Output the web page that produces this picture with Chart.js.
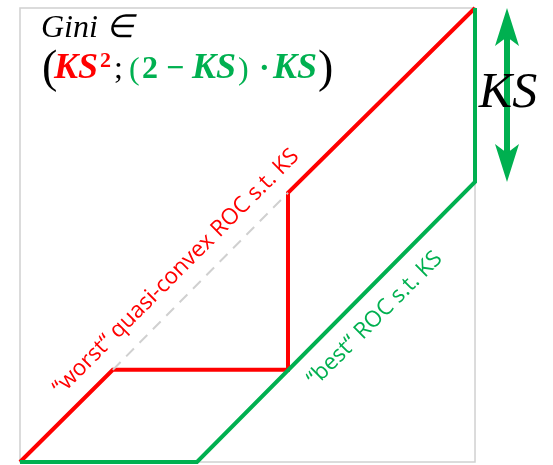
<!DOCTYPE html>
<html>
<head>
<meta charset="utf-8">
<script src="https://cdn.jsdelivr.net/npm/chart.js@4.4.1/dist/chart.umd.min.js"></script>
<style>
  body { margin: 0; background: #fff; }
  #wrap { width: 553px; height: 465px; }
</style>
</head>
<body>
<div id="wrap"><canvas id="roc-chart"></canvas></div>
<script>
// ROC curves (false positive rate on x, true positive rate on y)
const worstX = [0, 0.204, 0.589, 0.589, 1];
const worstY = [0, 0.203, 0.203, 0.593, 1];
const bestX = [0, 0.389, 1, 1];
const bestY = [0, 0, 0.617, 1];
const diagX = [0.204, 0.589];
const diagY = [0.203, 0.593];

const worstLabel = "\u201Cworst\u201C quasi-convex ROC s.t. KS";
const bestLabel = "\u201Cbest\u201C ROC s.t. KS";
const ksLabel = "KS";

const RED = "#ff0000";
const GREEN = "#00b050";
const SERIF = "'Liberation Serif'";

const toPoints = (xs, ys) => xs.map((x, i) => ({ x: x, y: ys[i] }));

// pieces of "(KS²; (2 − KS) · KS)" : text, left x, font, colour, baseline
const formula = [
  ["(", 42, "46px " + SERIF, "#000", 82],
  ["KS", 54, "italic bold 36px " + SERIF, RED, 78],
  ["2", 100, "bold 22px " + SERIF, RED, 67],
  [";", 114, "32px " + SERIF, "#000", 78],
  ["(", 129, "32px " + SERIF, GREEN, 79],
  ["2", 142, "bold 32px " + SERIF, GREEN, 78],
  ["\u2212", 166, "bold 32px " + SERIF, GREEN, 78],
  ["KS", 192, "italic bold 36px " + SERIF, GREEN, 78],
  [")", 238, "32px " + SERIF, GREEN, 79],
  ["\u00B7", 259, "bold 32px " + SERIF, GREEN, 78],
  ["KS", 273, "italic bold 36px " + SERIF, GREEN, 78],
  [")", 318, "46px " + SERIF, "#000", 82]
];

// box, rotated labels, Gini formula and KS arrow
const annotations = {
  id: "annotations",
  beforeDatasetsDraw(chart) {
    const { ctx, chartArea: a } = chart;
    ctx.save();
    ctx.strokeStyle = "#d0d0d0";
    ctx.lineWidth = 1.5;
    ctx.strokeRect(a.left, a.top, a.right - a.left, a.bottom - a.top);
    ctx.restore();
  },
  afterDatasetsDraw(chart) {
    const { ctx, chartArea: a } = chart;
    const xs = chart.scales.x;
    const ys = chart.scales.y;

    const rotated = (text, cx, cy, color) => {
      ctx.save();
      ctx.translate(xs.getPixelForValue(cx), ys.getPixelForValue(cy));
      ctx.rotate(-Math.PI / 4);
      ctx.font = "22.5px 'Open Sans'";
      ctx.fillStyle = color;
      ctx.textAlign = "center";
      ctx.textBaseline = "middle";
      ctx.fillText(text, 0, 0);
      ctx.restore();
    };
    rotated(worstLabel, 0.343, 0.418, RED);
    rotated(bestLabel, 0.78, 0.315, GREEN);

    // Gini formula
    ctx.save();
    ctx.textBaseline = "alphabetic";
    ctx.fillStyle = "#000";
    ctx.font = "italic 32px " + SERIF;
    ctx.fillText("Gini \u2208", 41, 37);
    formula.forEach(([text, x, font, color, y]) => {
      ctx.font = font;
      ctx.fillStyle = color;
      ctx.fillText(text, x, y);
    });
    ctx.restore();

    // KS double arrow along the vertical part of the best curve
    const ax = a.right + 32;
    const yTop = ys.getPixelForValue(bestY[3]);
    const yBot = ys.getPixelForValue(bestY[2]);
    ctx.save();
    ctx.fillStyle = GREEN;
    ctx.strokeStyle = GREEN;
    ctx.lineWidth = 6;
    ctx.beginPath();
    ctx.moveTo(ax, yTop + 20);
    ctx.lineTo(ax, yBot - 20);
    ctx.stroke();
    const head = (tipY, dir) => {
      ctx.beginPath();
      ctx.moveTo(ax, tipY);
      ctx.lineTo(ax - 12, tipY + dir * 38);
      ctx.lineTo(ax, tipY + dir * 29);
      ctx.lineTo(ax + 12, tipY + dir * 38);
      ctx.closePath();
      ctx.fill();
    };
    head(yTop, 1);
    head(yBot, -1);

    ctx.fillStyle = "#000";
    ctx.font = "italic 50px " + SERIF;
    ctx.textAlign = "center";
    ctx.fillText(ksLabel, ax + 1, 107);
    ctx.restore();
  }
};

new Chart("roc-chart", {
  type: "scatter",
  data: {
    datasets: [
      {
        label: "diagonal",
        data: toPoints(diagX, diagY),
        showLine: true,
        borderColor: "#d0d0d0",
        borderWidth: 2,
        borderDash: [11, 8],
        pointRadius: 0,
        clip: false
      },
      {
        label: "best ROC",
        data: toPoints(bestX, bestY),
        showLine: true,
        borderColor: GREEN,
        borderWidth: 4,
        pointRadius: 0,
        clip: false
      },
      {
        label: "worst ROC",
        data: toPoints(worstX, worstY),
        showLine: true,
        borderColor: RED,
        borderWidth: 4,
        pointRadius: 0,
        clip: false
      }
    ]
  },
  options: {
    responsive: true,
    maintainAspectRatio: false,
    animation: false,
    layout: { padding: { left: 20, right: 78, top: 8, bottom: 3 } },
    plugins: { legend: { display: false }, tooltip: { enabled: false } },
    scales: {
      x: { type: "linear", min: 0, max: 1, display: false },
      y: { type: "linear", min: 0, max: 1, display: false }
    }
  },
  plugins: [annotations]
});
</script>
</body>
</html>
